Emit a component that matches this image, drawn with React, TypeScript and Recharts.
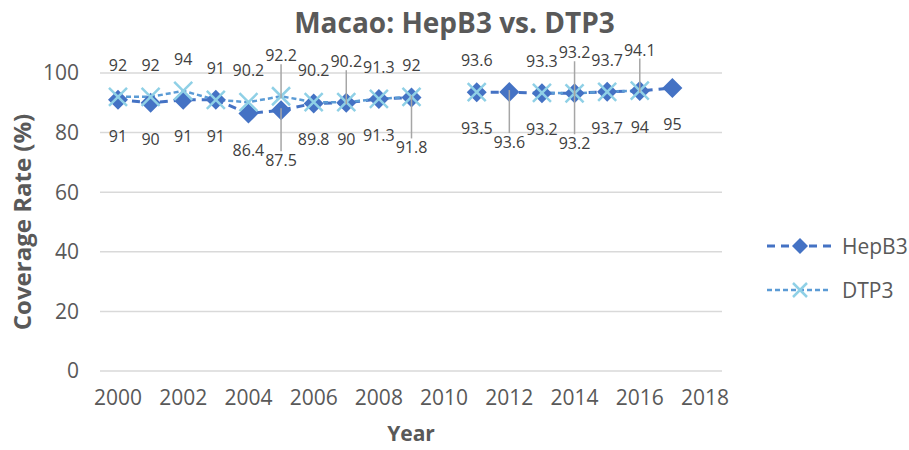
import React from 'react';
import { LineChart, Line, XAxis, YAxis, CartesianGrid, Legend, LabelList } from 'recharts';

const years = [2000, 2001, 2002, 2003, 2004, 2005, 2006, 2007, 2008, 2009, 2010, 2011, 2012, 2013, 2014, 2015, 2016, 2017];
const hepB3 = [91, 90, 91, 91, 86.4, 87.5, 89.8, 90, 91.3, 91.8, null, 93.5, 93.6, 93.2, 93.2, 93.7, 94, 95];
const dtp3 = [92, 92, 94, 91, 90.2, 92.2, 90.2, 90.2, 91.3, 92, null, 93.6, null, 93.3, 93.2, 93.7, 94.1, null];
const xTicks = [2000, 2002, 2004, 2006, 2008, 2010, 2012, 2014, 2016, 2018];
const yTicks = [0, 20, 40, 60, 80, 100];

const HEP_COLOR = '#4472C4';
const DTP_COLOR = '#5B9BD5';
const X_COLOR = '#8FD0E6';
const TEXT = '#595959';
const FONT = '"Open Sans", sans-serif';
const LABEL_SIZE = 16;

if (typeof document !== 'undefined') document.body.style.margin = '0';

const data = years.map((year, i) => ({ year, hepB3: hepB3[i], dtp3: dtp3[i] }));

// rough width of a data label, used to nudge labels that would collide
const labelWidth = (v: number) => String(v).length * LABEL_SIZE * 0.55;

// mark labels that would overlap the previous (un-nudged) label
const nudgeFlags = (values: (number | null)[]) => {
    const flags = values.map(() => false);
    let last = -1;
    values.forEach((v, i) => {
        if (v == null) return;
        if (last >= 0) {
            const gap = (i - last) * 32.6;
            if ((labelWidth(v) + labelWidth(values[last] as number)) / 2 > gap - 2) {
                flags[i] = true;
                return;
            }
        }
        last = i;
    });
    return flags;
};

const hepNudge = nudgeFlags(hepB3);
const dtpNudge = nudgeFlags(dtp3);

const Diamond = (props: any) => {
    const { cx, cy, index } = props;
    if (cx == null || cy == null) return <g key={`d-${index}`} />;
    const r = 10;
    return (
        <path key={`d-${index}`} d={`M${cx},${cy - r}L${cx + r},${cy}L${cx},${cy + r}L${cx - r},${cy}Z`} fill={HEP_COLOR} />
    );
};

const Cross = (props: any) => {
    const { cx, cy, index } = props;
    if (cx == null || cy == null) return <g key={`x-${index}`} />;
    const r = 9;
    return (
        <path key={`x-${index}`} d={`M${cx - r},${cy - r}L${cx + r},${cy + r}M${cx - r},${cy + r}L${cx + r},${cy - r}`}
            stroke={X_COLOR} strokeWidth={2.5} fill="none" />
    );
};

const makeLabel = (dy: number, nudge: number, flags: boolean[]) => (props: any) => {
    const { x, y, value, index } = props;
    if (value == null || y == null) return null;
    const moved = flags[index];
    const dir = Math.sign(dy);
    const ty = y + (moved ? dy + dir * nudge : dy);
    const edge = ty - dir * 9;
    return (
        <g>
            {moved && (
                <line x1={x} y1={edge} x2={x} y2={y - dir * 2} stroke="#A6A6A6" strokeWidth={1.5} />
            )}
            <text x={x} y={ty} textAnchor="middle" dominantBaseline="central" fontSize={LABEL_SIZE} fill="#404040" fontFamily={FONT}>
                {value}
            </text>
        </g>
    );
};

const YTitle = (props: any) => {
    const vb = props.viewBox || {};
    const cx = 21;
    const cy = vb.y + vb.height / 2;
    return (
        <text x={cx} y={cy} transform={`rotate(-90 ${cx} ${cy})`} textAnchor="middle" dominantBaseline="central"
            fontSize={24} fontWeight="bold" fill={TEXT} fontFamily={FONT}>
            Coverage Rate (%)
        </text>
    );
};

const XTitle = (props: any) => {
    const vb = props.viewBox || {};
    return (
        <text x={vb.x + vb.width / 2} y={vb.y + 62} textAnchor="middle" dominantBaseline="central"
            fontSize={21} fontWeight="bold" fill={TEXT} fontFamily={FONT}>
            Year
        </text>
    );
};

const legendItems = [
    { name: 'HepB3', color: HEP_COLOR, dash: '8 6', marker: 'diamond' },
    { name: 'DTP3', color: DTP_COLOR, dash: '5 3', marker: 'cross' },
];

const LegendBox = () => (
    <div style={{ paddingLeft: 45, fontFamily: FONT }}>
        {legendItems.map(item => (
            <div key={item.name} style={{ display: 'flex', alignItems: 'center', height: 44 }}>
                <svg width={66} height={24} style={{ flexShrink: 0 }}>
                    <line x1={0} y1={12} x2={64} y2={12} stroke={item.color} strokeWidth={item.marker === 'diamond' ? 3 : 2.5}
                        strokeDasharray={item.dash} />
                    {item.marker === 'diamond'
                        ? <path d="M33,4L41,12L33,20L25,12Z" fill={HEP_COLOR} />
                        : <path d="M26,5L40,19M26,19L40,5" stroke={X_COLOR} strokeWidth={2.5} />}
                </svg>
                <span style={{ fontSize: 21, color: TEXT, marginLeft: 9, whiteSpace: 'nowrap' }}>{item.name}</span>
            </div>
        ))}
    </div>
);

export default function App() {
    return (
        <div style={{ position: 'relative', width: 909, height: 450, background: '#fff' }}>
            <div style={{
                position: 'absolute', left: 0, width: 909, top: 6, lineHeight: '32px', textAlign: 'center',
                fontFamily: FONT, fontWeight: 'bold', fontSize: 28, color: TEXT,
            }}>
                Macao: HepB3 vs. DTP3
            </div>
            <LineChart width={909} height={450} data={data} margin={{ top: 73, right: 0, bottom: 4, left: 0 }}>
                <CartesianGrid horizontal vertical={false} stroke="#D9D9D9" strokeWidth={1.5} />
                <XAxis dataKey="year" type="number" domain={[2000, 2018]} ticks={xTicks} padding={{ left: 18, right: 17 }}
                    height={75} axisLine={false} tickLine={false} tickMargin={13}
                    tick={{ fontSize: 21, fill: TEXT, fontFamily: FONT }} label={XTitle} />
                <YAxis domain={[0, 100]} ticks={yTicks} width={100} axisLine={false} tickLine={false} tickMargin={15}
                    tick={{ fontSize: 21, fill: TEXT, fontFamily: FONT }} label={YTitle} />
                <Legend layout="vertical" align="right" verticalAlign="middle" width={187}
                    wrapperStyle={{ top: 224 }} content={LegendBox} />
                <Line dataKey="hepB3" name="HepB3" stroke={HEP_COLOR} strokeWidth={3} strokeDasharray="8 6"
                    dot={Diamond} activeDot={false} isAnimationActive={false}>
                    <LabelList dataKey="hepB3" content={makeLabel(36, 14, hepNudge)} />
                </Line>
                <Line dataKey="dtp3" name="DTP3" stroke={DTP_COLOR} strokeWidth={2.5} strokeDasharray="5 3"
                    dot={Cross} activeDot={false} isAnimationActive={false}>
                    <LabelList dataKey="dtp3" content={makeLabel(-32, 9, dtpNudge)} />
                </Line>
            </LineChart>
        </div>
    );
}
